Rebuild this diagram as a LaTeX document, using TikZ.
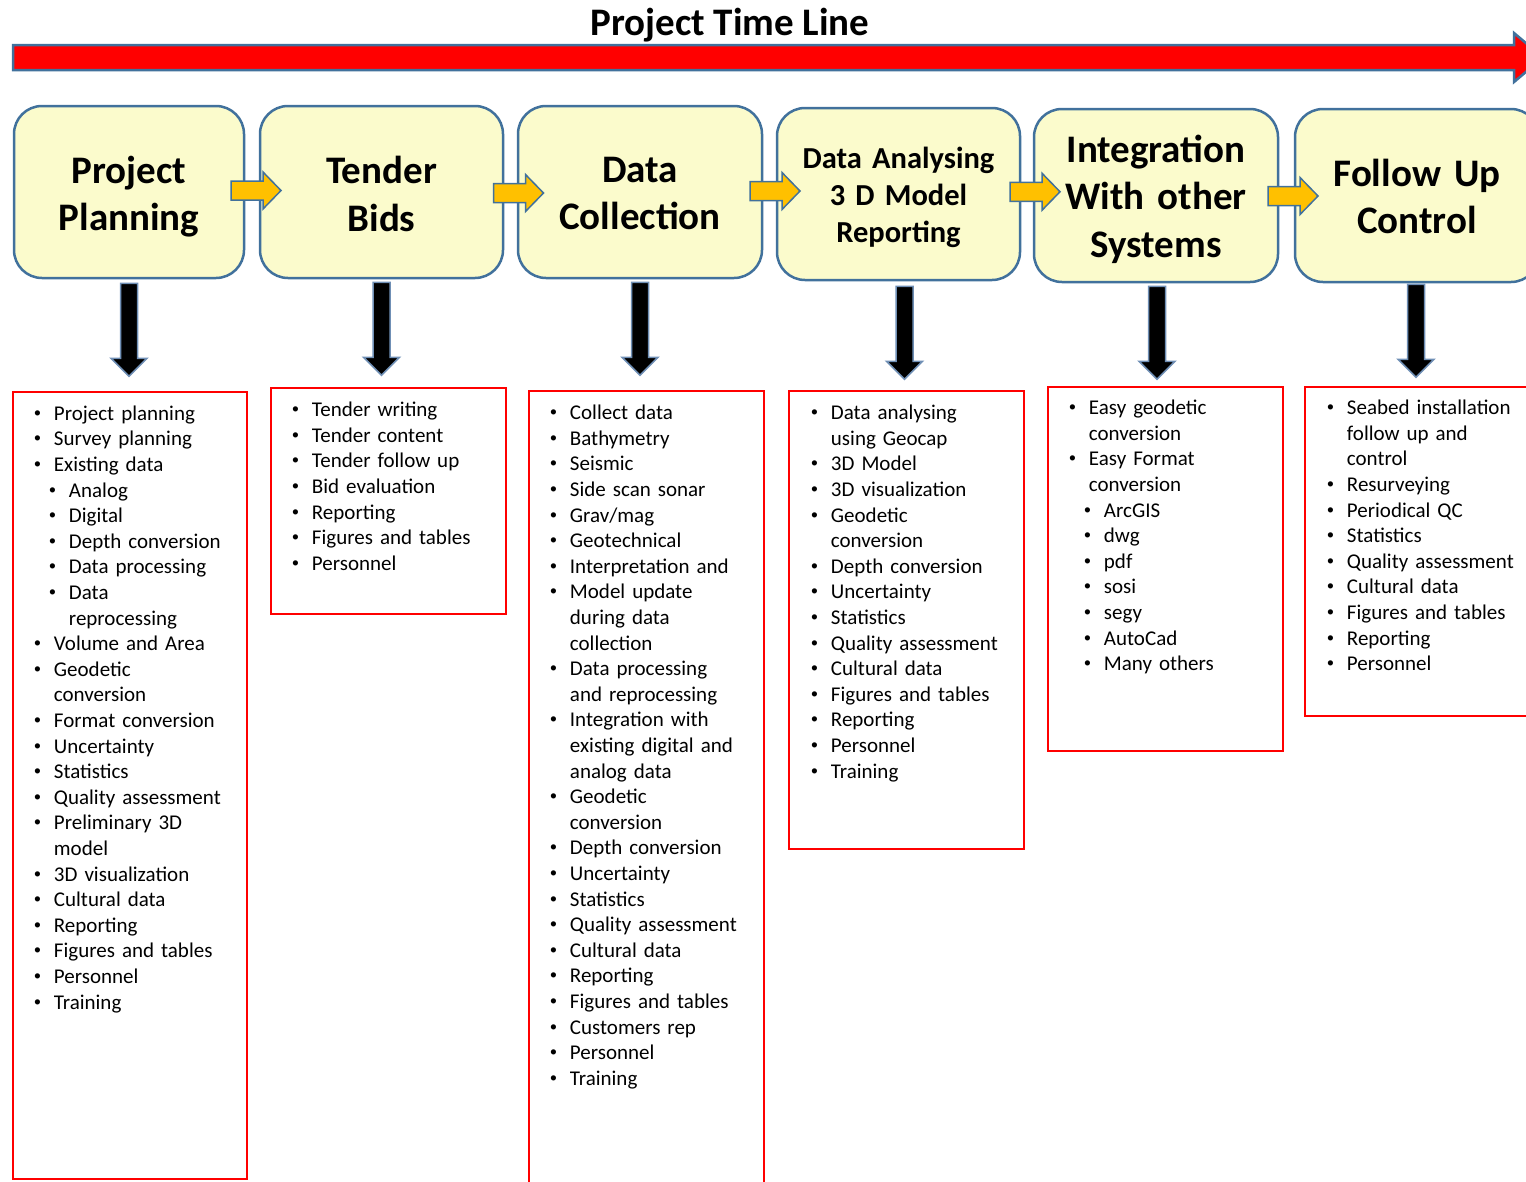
\documentclass[tikz,border=0pt]{standalone}
\usepackage{fontspec}
\setmainfont{Carlito}
\usetikzlibrary{calc}
\definecolor{hdfill}{HTML}{FBFBCC}
\definecolor{bord}{HTML}{41719C}
\definecolor{yarr}{HTML}{FFC000}
\definecolor{redline}{HTML}{FF0000}
\definecolor{darrbord}{HTML}{6F8FB5}
\newcommand\bul{\makebox[20pt][l]{\raisebox{3pt}{\scalebox{0.7}{\textbullet}}}}
\newcommand\bi{\bul}
\newcommand\si{\hspace*{15pt}\bul}
\newcommand\ci{\hspace*{20pt}}
\newcommand\sci{\hspace*{35pt}}
\tikzset{
  hd/.style={draw=bord, line width=2.5pt, fill=hdfill, rounded corners=28pt, inner sep=0pt},
  hdtext/.style={inner sep=0pt, text width=230pt, align=center},
  hdA/.style={hdtext, font=\bfseries\fontsize{39}{47.5}\selectfont},
  hdB/.style={hdtext, font=\bfseries\fontsize{30.5}{37.2}\selectfont},
  lbox/.style={draw=redline, line width=2.5pt, inner sep=0pt},
  ltext/.style={anchor=base west, inner sep=0pt, text width=225pt, align=left,
    font=\fontsize{21}{25.6}\selectfont},
  yarrowstyle/.style={draw=bord, line width=1.5pt, fill=yarr, line join=miter},
  darrowstyle/.style={draw=darrbord, line width=1.5pt, fill=black},
  bigarrow/.style={draw=bord, line width=2.5pt, fill=redline},
  yarrow/.pic={\draw[yarrowstyle] (-25,9.5) -- (7,9.5) -- (7,18.5) -- (25,0) -- (7,-18.5) -- (7,-9.5) -- (-25,-9.5) -- cycle;},
  darrow/.pic={\draw[darrowstyle] (-8.5,0) -- (8.5,0) -- (8.5,-75) -- (18,-75) -- (0,-93) -- (-18,-75) -- (-8.5,-75) -- cycle;}
}
\begin{document}
\begin{tikzpicture}[x=1pt,y=1pt]
\useasboundingbox (0,0) rectangle (1526,-1181);
\clip (0,0) rectangle (1526,-1181);

% title and time line
\node[anchor=base, inner sep=0pt, font=\bfseries\fontsize{39}{47}\selectfont] (title) at (730,-35) {Project Time Line};
\draw[bigarrow] (13,-45) -- (1514,-45) -- (1514,-33) -- (1543,-57.5) -- (1514,-82) -- (1514,-70) -- (13,-70) -- cycle;

% phase header boxes
\node[hd, minimum width=230, minimum height=172] (h1) at (129,-192) {};
\node[hd, minimum width=243, minimum height=172] (h2) at (381.5,-192) {};
\node[hd, minimum width=244, minimum height=172] (h3) at (640,-192) {};
\node[hd, minimum width=243, minimum height=172] (h4) at (898.5,-194) {};
\node[hd, minimum width=244, minimum height=173] (h5) at (1156,-195.5) {};
\node[hd, minimum width=244, minimum height=173] (h6) at (1417,-195.5) {};

% phase header texts
\node[hdA] (h1t) at ($(h1.center)+(0,-4.5)$) {Project\\Planning};
\node[hdA] (h2t) at ($(h2.center)+(0,-2)$) {Tender\\Bids};
\node[hdA] (h3t) at ($(h3.center)+(0,-1.5)$) {Data\\Collection};
\node[hdB] (h4t) at ($(h4.center)+(0,-3.5)$) {Data Analysing\\3 D Model\\Reporting};
\node[hdA] (h5t) at ($(h5.center)+(0,-3.5)$) {Integration\\With other\\Systems};
\node[hdA] (h6t) at ($(h6.center)+(0,-1)$) {Follow Up\\Control};

% yellow arrows between phases
\pic at ($(h1.east)!0.5!(h2.west)+(4,1.5)$) {yarrow};
\pic at ($(h2.east)!0.5!(h3.west)+(8,-1)$) {yarrow};
\pic at ($(h3.east)!0.5!(h4.west)+(5.5,2)$) {yarrow};
\pic at ($(h4.east)!0.5!(h5.west)+(8,3)$) {yarrow};
\pic at ($(h5.east)!0.5!(h6.west)+(6.5,-0.5)$) {yarrow};

% list boxes
\node[lbox, minimum width=234, minimum height=787] (l1) at (130,-785.5) {};
\node[lbox, minimum width=235, minimum height=226] (l2) at (388.5,-501) {};
\node[lbox, minimum width=235, minimum height=804] (l3) at (646.5,-793) {};
\node[lbox, minimum width=235, minimum height=458] (l4) at (906.5,-620) {};
\node[lbox, minimum width=235, minimum height=364] (l5) at (1165.5,-569) {};
\node[lbox, minimum width=240, minimum height=329] (l6) at (1425,-551.5) {};

% down arrows
\pic at ($(h1.south)+(0,-4)$) {darrow};
\pic at ($(h2.south)+(0,-3)$) {darrow};
\pic at ($(h3.south)+(0,-3)$) {darrow};
\pic at ($(h4.south)+(6,-5)$) {darrow};
\pic at ($(h5.south)+(1,-3)$) {darrow};
\pic at ($(h6.south)+(-1,-1)$) {darrow};

% list texts
\node[ltext] (t1) at ($(l1.north west)+(22,-29.5)$) {%
\bi Project planning\\
\bi Survey planning\\
\bi Existing data\\
\si Analog\\
\si Digital\\
\si Depth conversion\\
\si Data processing\\
\si Data\\
\sci reprocessing\\
\bi Volume and Area\\
\bi Geodetic\\
\ci conversion\\
\bi Format conversion\\
\bi Uncertainty\\
\bi Statistics\\
\bi Quality assessment\\
\bi Preliminary 3D\\
\ci model\\
\bi 3D visualization\\
\bi Cultural data\\
\bi Reporting\\
\bi Figures and tables\\
\bi Personnel\\
\bi Training};

\node[ltext] (t2) at ($(l2.north west)+(22,-30)$) {%
\bi Tender writing\\
\bi Tender content\\
\bi Tender follow up\\
\bi Bid evaluation\\
\bi Reporting\\
\bi Figures and tables\\
\bi Personnel};

\node[ltext] (t3) at ($(l3.north west)+(22,-30)$) {%
\bi Collect data\\
\bi Bathymetry\\
\bi Seismic\\
\bi Side scan sonar\\
\bi Grav/mag\\
\bi Geotechnical\\
\bi Interpretation and\\
\bi Model update\\
\ci during data\\
\ci collection\\
\bi Data processing\\
\ci and reprocessing\\
\bi Integration with\\
\ci existing digital and\\
\ci analog data\\
\bi Geodetic\\
\ci conversion\\
\bi Depth conversion\\
\bi Uncertainty\\
\bi Statistics\\
\bi Quality assessment\\
\bi Cultural data\\
\bi Reporting\\
\bi Figures and tables\\
\bi Customers rep\\
\bi Personnel\\
\bi Training};

\node[ltext] (t4) at ($(l4.north west)+(23,-30)$) {%
\bi Data analysing\\
\ci using Geocap\\
\bi 3D Model\\
\bi 3D visualization\\
\bi Geodetic\\
\ci conversion\\
\bi Depth conversion\\
\bi Uncertainty\\
\bi Statistics\\
\bi Quality assessment\\
\bi Cultural data\\
\bi Figures and tables\\
\bi Reporting\\
\bi Personnel\\
\bi Training};

\node[ltext] (t5) at ($(l5.north west)+(22,-29)$) {%
\bi Easy geodetic\\
\ci conversion\\
\bi Easy Format\\
\ci conversion\\
\si ArcGIS\\
\si dwg\\
\si pdf\\
\si sosi\\
\si segy\\
\si AutoCad\\
\si Many others};

\node[ltext] (t6) at ($(l6.north west)+(23,-29)$) {%
\bi Seabed installation\\
\ci follow up and\\
\ci control\\
\bi Resurveying\\
\bi Periodical QC\\
\bi Statistics\\
\bi Quality assessment\\
\bi Cultural data\\
\bi Figures and tables\\
\bi Reporting\\
\bi Personnel};
\end{tikzpicture}
\end{document}
